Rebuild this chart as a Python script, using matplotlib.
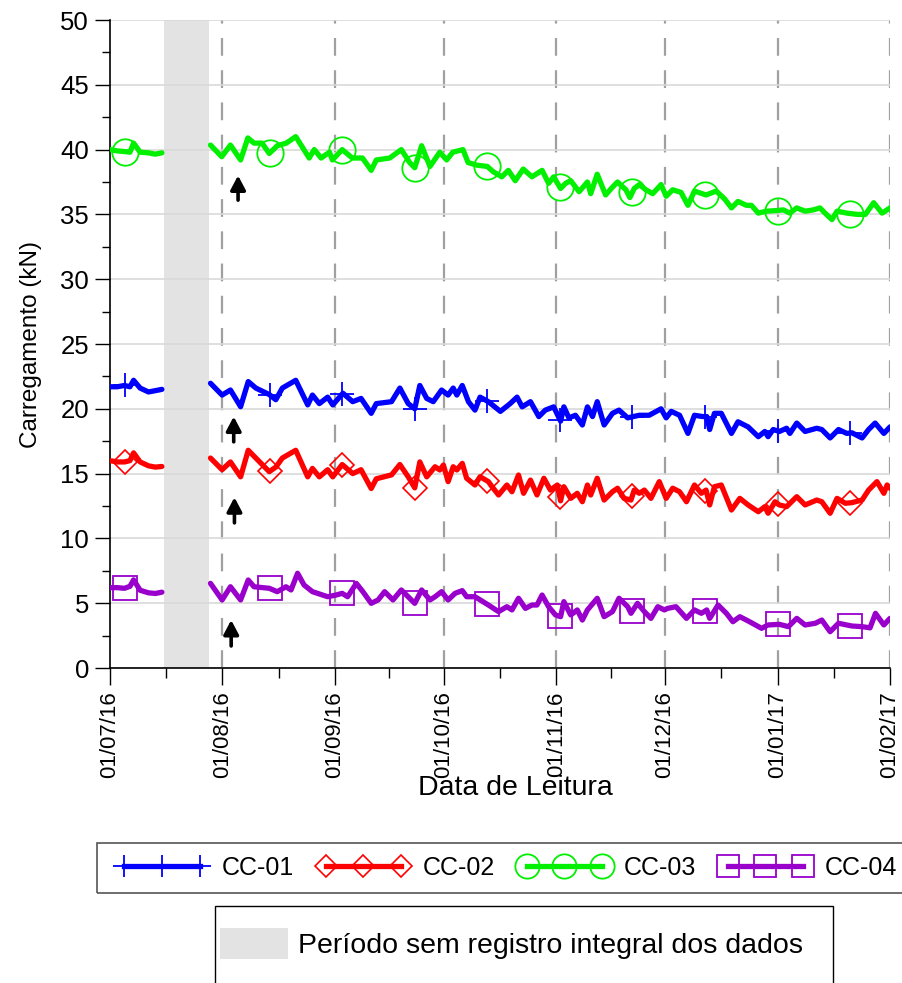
import numpy as np
import pandas as pd
import matplotlib
matplotlib.use('Agg')
import matplotlib.pyplot as plt
import matplotlib.dates as mdates
from matplotlib.lines import Line2D
from matplotlib.patches import Patch, Rectangle

# ---------------------------------------------------------------------
# Data (days counted from 01/07/16, load in kN; nan = gap in the record)
# ---------------------------------------------------------------------
START = '2016-07-01'
END = '2017-02-01'
GAP = ('2016-07-15 19:00', '2016-07-28 05:00')

CC01_DAYS = [0, 2, 4, 5.5, 6.5, 8.3, 10.6, 12.5, 14.3, 21,
             27.7, 30.9, 33.2, 36, 38.1, 40.2, 43.9, 45.7, 47.5, 51.2,
             54.5, 55.8, 57.7, 60, 61.4, 64.2, 66.9, 69.2, 72, 73.4,
             77.6, 79.9, 82.2, 84, 85.4, 87.3, 89.1, 91.4, 93.2, 94.6,
             95.6, 97.1, 98.8, 100.6, 102, 104.3, 107.6, 110.3, 112.2, 113.6,
             115.9, 118.2, 120, 122.3, 124.2, 125.1, 126.5, 128.3, 130.2, 131.6,
             133, 134.3, 136.2, 138.5, 140.3, 142.7, 144.2, 145.9, 148.6, 151.9,
             153.3, 154.7, 157, 159.3, 161.1, 163.4, 164.5, 165.3, 166.6, 168.5,
             171.3, 173.1, 175.9, 178.7, 180.5, 181.4, 182.8, 184.5, 186.5, 187.4,
             189.3, 191.6, 194.8, 196.2, 198.5, 200.8, 203.1, 204.5, 207.3, 209.1,
             210.9, 213.3, 215]
CC01_KN = [21.7, 21.7, 21.8, 21.7, 22.2, 21.6, 21.3, 21.4, 21.5, np.nan,
           21.97, 21.06, 21.45, 20.16, 22.1, 21.6, 21.1, 20.7, 21.6, 22.2,
           20.3, 21.06, 20.4, 20.9, 20.3, 21.2, 20.55, 20.8, 19.65, 20.4,
           20.55, 21.6, 20.4, 20.0, 21.8, 20.8, 20.55, 21.45, 21.06, 21.6,
           21.06, 21.8, 20.55, 19.9, 20.9, 20.55, 19.8, 20.4, 20.9, 20.15,
           20.55, 19.4, 19.9, 20.15, 19.05, 20.15, 19.3, 19.5, 18.75, 20.15,
           19.4, 20.55, 18.75, 19.65, 19.9, 19.3, 19.4, 19.5, 19.5, 20.0,
           19.3, 19.8, 19.5, 18.1, 19.5, 19.4, 19.4, 18.4, 19.65, 19.65,
           18.1, 19.0, 18.6, 17.85, 18.25, 17.85, 18.4, 18.25, 18.5, 18.1,
           18.9, 18.25, 18.5, 18.4, 17.75, 18.4, 18.1, 18.15, 17.75, 18.4,
           18.9, 18.1, 18.6]

CC02_DAYS = [0, 2, 4, 5.5, 6.5, 8.3, 10.6, 12.5, 14.3, 21,
             27.7, 30.9, 33.2, 36, 38.1, 40.2, 43.9, 45.7, 47.5, 51.2,
             54.5, 55.8, 57.7, 60, 61.4, 64, 66.9, 69.2, 72, 73.4,
             77.6, 79.9, 82.2, 84, 85.4, 87.3, 89.6, 90.9, 91.9, 93.2,
             94.6, 95.6, 97.1, 98.3, 100.6, 102, 104.3, 105.3, 107.1, 109.4,
             110.8, 112.6, 114, 115.9, 117.7, 119.6, 121.4, 123.3, 124.2, 125.1,
             127, 128.8, 130.2, 131.6, 132.5, 134.3, 136.2, 138.5, 139.9, 141.7,
             143.6, 144.5, 145.9, 147.3, 149.1, 151.4, 153.3, 155.1, 157, 158.9,
             161.1, 163, 164.3, 165.3, 166.6, 168.5, 171.3, 173.6, 175.9, 178.7,
             180.5, 181.4, 183.3, 184.5, 186.5, 189.3, 191.6, 194.8, 196.2, 198.5,
             200.4, 202.7, 204.5, 207.3, 209.1, 211.4, 213.3, 214.2, 215]
CC02_KN = [16.0, 15.9, 15.9, 16.0, 16.6, 15.9, 15.6, 15.5, 15.55, np.nan,
           16.2, 15.3, 15.9, 14.75, 16.8, 16.2, 15.15, 15.5, 16.2, 16.8,
           14.75, 15.4, 14.75, 15.3, 14.75, 15.7, 15.0, 15.3, 13.85, 14.6,
           14.9, 15.7, 14.75, 13.9, 15.9, 14.75, 15.53, 15.28, 15.66, 14.38,
           15.53, 15.28, 15.79, 14.64, 14.12, 14.76, 14.38, 13.99, 13.35, 14.12,
           13.6, 14.89, 13.48, 14.5, 13.35, 14.64, 13.73, 14.12, 12.9, 13.99,
           13.09, 13.48, 12.83, 14.12, 13.35, 14.64, 12.96, 13.6, 13.87, 13.09,
           12.96, 13.73, 13.48, 13.73, 13.09, 14.38, 13.09, 13.87, 13.6, 12.83,
           14.12, 13.48, 13.73, 12.58, 13.99, 14.12, 12.19, 13.09, 12.58, 12.06,
           12.45, 11.94, 12.83, 12.58, 12.45, 13.22, 12.58, 12.96, 12.83, 11.94,
           13.09, 12.71, 12.76, 12.96, 13.73, 14.38, 13.48, 14.12, 13.87]

CC03_DAYS = [0, 2, 4, 5.5, 6.5, 8.3, 10.6, 12.5, 14.3, 21,
             27.7, 30.8, 33.2, 36, 38, 39.7, 41.9, 43.9, 46.1, 48.6,
             51.2, 54.9, 56.3, 58.2, 60.5, 61.3, 64, 66.8, 69.6, 72,
             73.4, 77.1, 80.3, 82.6, 84, 85.9, 88.2, 90.9, 92.8, 94.5,
             97.3, 98.7, 101.1, 104, 105.6, 108, 109.8, 111.7, 113.9, 116.3,
             119.1, 120.9, 122.3, 124.2, 125.6, 127, 129.3, 131.6, 132.5, 134.3,
             136.6, 138.5, 139.9, 142.2, 143.3, 144.5, 145.9, 147.7, 149.6, 151.9,
             153.3, 155.1, 157.4, 159.3, 161.1, 164.3, 167.1, 169.4, 171.3, 173.1,
             175.4, 176.8, 178.7, 181, 184, 185.6, 187.4, 189.3, 191.6, 193.9,
             195.7, 197.1, 199, 200.4, 203.1, 204.5, 206, 208.2, 210.5, 212.8,
             215]
CC03_KN = [40.0, 39.9, 39.85, 39.8, 40.5, 39.8, 39.75, 39.65, 39.75, np.nan,
           40.35, 39.45, 40.35, 39.2, 40.9, 40.5, 40.5, 39.7, 40.3, 40.5,
           41.0, 39.35, 40.0, 39.35, 39.8, 39.2, 40.0, 39.35, 39.35, 38.4,
           39.2, 39.35, 40.0, 39.0, 38.6, 40.3, 38.7, 39.8, 39.2, 39.8,
           40.0, 39.0, 38.8, 38.7, 38.3, 37.9, 38.4, 37.6, 38.5, 37.9,
           38.4, 37.4, 37.9, 37.0, 37.4, 37.6, 36.75, 37.5, 36.6, 38.1,
           36.5, 37.1, 37.5, 36.9, 36.3, 37.0, 37.3, 36.9, 36.6, 37.3,
           36.4, 36.9, 36.7, 35.7, 36.8, 36.5, 36.8, 36.2, 35.5, 36.0,
           35.7, 35.7, 35.1, 35.25, 35.3, 35.35, 35.1, 35.5, 35.25, 35.35,
           35.5, 35.1, 34.6, 35.25, 35.1, 35.05, 35.0, 35.0, 35.9, 35.1,
           35.5]

CC04_DAYS = [0, 2, 4, 5.5, 6.5, 8.3, 10.6, 12.5, 14.3, 21,
             27.7, 30.9, 33.2, 36, 38.1, 39.7, 43.9, 46.1, 48.5, 49.9,
             51.7, 53.5, 55.8, 60, 62.3, 64, 65.5, 67.9, 69.7, 72,
             73.9, 75.7, 78, 80.3, 84, 85.9, 88.2, 89.6, 91.4, 93.2,
             95.1, 97.1, 98.3, 100.6, 104.3, 107.1, 109.4, 110.8, 112.6, 114.5,
             116.3, 117.7, 119.1, 120.9, 122.8, 124.2, 125.1, 127, 128.8, 130.2,
             131.6, 134.3, 136.2, 138.5, 140.3, 142.7, 143.6, 144.2, 145.4, 147.3,
             149.1, 151, 152.8, 153.7, 156, 158.9, 161.1, 163, 164.5, 165.3,
             167.6, 169.9, 171.7, 173.6, 176.3, 179.6, 181.4, 184.5, 187, 189.3,
             191.6, 194.4, 196.2, 198.5, 200.8, 204.5, 207.3, 209.5, 211, 213.3,
             215]
CC04_KN = [6.2, 6.2, 6.15, 6.3, 6.8, 6.0, 5.8, 5.75, 5.85, np.nan,
           6.53, 5.25, 6.27, 5.25, 6.79, 6.27, 6.15, 5.89, 6.27, 6.02,
           7.31, 6.4, 5.89, 5.5, 5.63, 5.76, 5.5, 6.53, 5.89, 4.99,
           5.25, 5.89, 5.25, 6.02, 4.99, 6.02, 5.25, 5.5, 5.89, 5.25,
           5.76, 5.97, 5.5, 5.5, 4.86, 4.35, 4.73, 4.48, 5.38, 4.6,
           4.86, 4.86, 5.63, 4.73, 4.09, 3.96, 5.12, 4.09, 4.48, 3.7,
           4.48, 5.38, 3.96, 4.35, 5.38, 4.73, 4.22, 4.48, 4.99, 4.35,
           3.83, 4.73, 4.48, 4.6, 4.73, 3.83, 4.48, 4.22, 4.48, 3.83,
           4.86, 4.22, 3.57, 3.96, 3.57, 3.06, 3.32, 3.37, 3.19, 3.83,
           3.32, 3.45, 3.7, 2.8, 3.45, 3.24, 3.19, 3.1, 4.22, 3.32,
           3.83]

# days (from 01/07/16) that carry a marker in the original sheet
MARKER_DAYS = [4, 44, 64, 84, 104, 124, 144, 164, 184, 204]

# arrows: day, tail and tip (kN), one per series
ARROW_DAYS = [34.1, 34.3, 35.3, 33.4]
ARROW_TAIL = [17.45, 11.2, 36.1, 1.7]
ARROW_TIP = [19.4, 13.17, 38.0, 3.7]

SERIES = [
    ('CC-01', CC01_DAYS, CC01_KN, '#0000FF', '+', 17, 1.3),
    ('CC-02', CC02_DAYS, CC02_KN, '#FF0000', 'D', 12, 1.2),
    ('CC-03', CC03_DAYS, CC03_KN, '#00F000', 'o', 19, 1.3),
    ('CC-04', CC04_DAYS, CC04_KN, '#9900CC', 's', 17, 1.3),
]

plt.rcParams['font.family'] = ['Liberation Sans', 'DejaVu Sans']

W, H = 902, 983
t0 = mdates.date2num(pd.Timestamp(START))

fig = plt.figure(figsize=(W / 100, H / 100), dpi=100)
ax = fig.add_axes([110 / W, 1 - 668 / H, 780 / W, 648 / H])

# period without full record
ax.axvspan(mdates.date2num(pd.Timestamp(GAP[0])), mdates.date2num(pd.Timestamp(GAP[1])),
           color='#E3E3E3', lw=0, zorder=0.5)

# grid
ax.yaxis.grid(True, color='#D9D9D9', lw=1.2, zorder=1)
months = pd.date_range(START, END, freq='MS')
for m in months[1:]:
    ax.axvline(mdates.date2num(m), color='#A0A0A0', lw=1.6,
               dashes=(8, 6.5), zorder=1.2)

handles = []
for name, days, vals, color, mk, ms, mew in SERIES:
    d = np.array(days, dtype=float)
    v = np.array(vals, dtype=float)
    ax.plot(t0 + d, v, color=color, lw=3.8, solid_joinstyle='round',
            solid_capstyle='round', zorder=3)
    ok = ~np.isnan(v)
    mv = np.interp(MARKER_DAYS, d[ok], v[ok])
    ax.plot(t0 + np.array(MARKER_DAYS), mv, ls='none', marker=mk, ms=ms,
            mfc='none', mec=color, mew=mew, zorder=4)
    handles.append(Line2D([], [], color=color, lw=3.8, marker=mk, ms=ms * 0.92,
                          mfc='none', mec=color, mew=mew))

for d, tail, tip in zip(ARROW_DAYS, ARROW_TAIL, ARROW_TIP):
    ax.annotate('', xy=(t0 + d, tip), xytext=(t0 + d, tail),
                arrowprops=dict(arrowstyle='-|>,head_length=0.85,head_width=0.45',
                                color='black', lw=2.6, mutation_scale=10,
                                shrinkA=0, shrinkB=0),
                zorder=5)

ax.set_xlim(t0, mdates.date2num(pd.Timestamp(END)))
ax.set_ylim(0, 50)

ax.set_xticks(mdates.date2num(months))
mids = (mdates.date2num(months[:-1]) + mdates.date2num(months[1:])) / 2
ax.set_xticks(mids, minor=True)
ax.xaxis.set_major_formatter(mdates.DateFormatter('%d/%m/%y'))
ax.set_yticks(np.arange(0, 51, 5))
ax.set_yticks(np.arange(2.5, 50, 5), minor=True)

ax.tick_params(axis='x', which='major', direction='out', length=12, width=1,
               labelsize=16, labelrotation=90, pad=5)
ax.tick_params(axis='x', which='minor', direction='out', length=7, width=1)
ax.tick_params(axis='y', which='major', direction='out', length=11, width=1,
               labelsize=18.5, pad=4)
ax.tick_params(axis='y', which='minor', direction='out', length=6, width=1)

for s in ['top', 'right']:
    ax.spines[s].set_visible(False)
for s in ['left', 'bottom']:
    ax.spines[s].set_color('black')
    ax.spines[s].set_linewidth(1.2)

ax.set_ylabel('Carregamento (kN)', fontsize=17.5, labelpad=13.5)
ax.set_xlabel('Data de Leitura', fontsize=20.5)
ax.xaxis.set_label_coords((515 - 110) / 780, (668 - 775) / 648)

# legend of the series (frame drawn separately, it runs past the right edge)
fig.patches.append(Rectangle((97 / W, 1 - 893 / H), 830 / W, 50 / H,
                             transform=fig.transFigure, fill=False,
                             edgecolor='#555555', lw=1.2))
fig.legend(handles, [s[0] for s in SERIES], loc='center left',
           bbox_to_anchor=(117 / W, 1 - 868 / H), ncol=4, frameon=False,
           numpoints=3, handlelength=3.6, handletextpad=0.6,
           columnspacing=0.95, borderaxespad=0, borderpad=0,
           prop={'size': 18})

# legend of the grey band (frame runs past the bottom edge)
fig.patches.append(Rectangle((215 / W, 1 - 1000 / H), 618 / W, 94 / H,
                             transform=fig.transFigure, fill=False,
                             edgecolor='black', lw=1.0))
gap_patch = Patch(facecolor='#E3E3E3', edgecolor='none')
fig.legend([gap_patch], ['Período sem registro integral dos dados'],
           loc='center left', bbox_to_anchor=(220 / W, 1 - 943.5 / H),
           frameon=False, handlelength=2.4, handleheight=1.3,
           handletextpad=0.33, borderaxespad=0, borderpad=0,
           prop={'size': 20.5})

fig.savefig('out.png', dpi=100)
